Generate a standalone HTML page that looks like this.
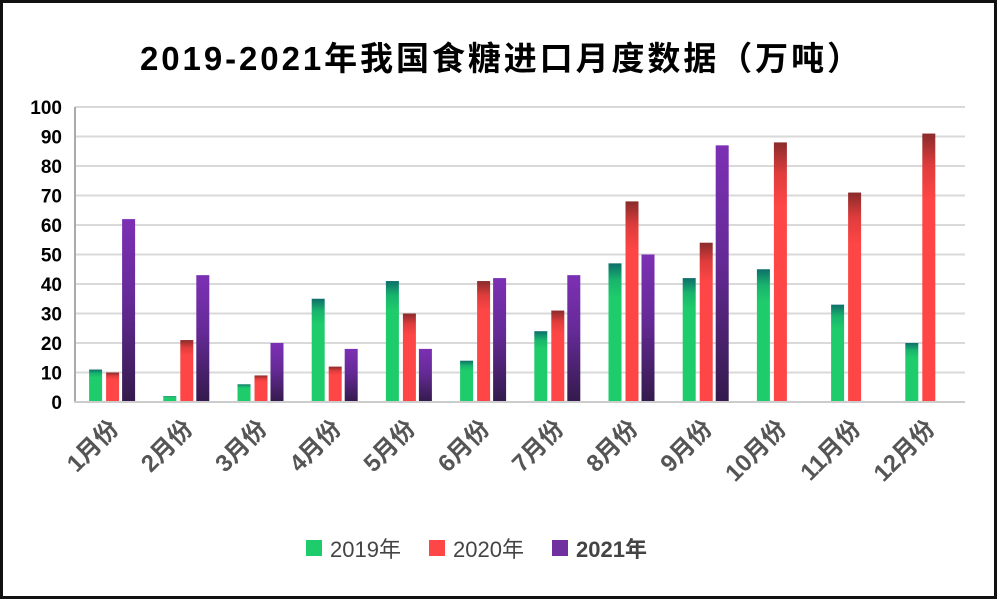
<!DOCTYPE html>
<html><head><meta charset="utf-8"><style>
body{margin:0;background:#fff}
svg{display:block}
text{font-family:"Liberation Sans","Noto Sans CJK SC",sans-serif}
</style></head><body>
<svg width="997" height="599" viewBox="0 0 997 599" xmlns="http://www.w3.org/2000/svg">
<defs>
<linearGradient id="g" x1="0" y1="0" x2="0" y2="1"><stop offset="0" stop-color="#0d6e6a"/><stop offset="0.12" stop-color="#18b46c"/><stop offset="0.25" stop-color="#1fcc6b"/><stop offset="1" stop-color="#1fcc6b"/></linearGradient>
<linearGradient id="r" x1="0" y1="0" x2="0" y2="1"><stop offset="0" stop-color="#8a2b2b"/><stop offset="0.12" stop-color="#e03c3c"/><stop offset="0.25" stop-color="#ff4646"/><stop offset="1" stop-color="#ff4646"/></linearGradient>
<linearGradient id="p" x1="0" y1="0" x2="0" y2="1"><stop offset="0" stop-color="#7c30b4"/><stop offset="0.45" stop-color="#652a96"/><stop offset="1" stop-color="#331a4c"/></linearGradient>
</defs>
<rect x="1.5" y="1.5" width="994" height="596" fill="#fff" stroke="#111" stroke-width="3"/>
<text x="500" y="70" text-anchor="middle" font-size="33" font-weight="bold" fill="#000" textLength="720">2019-2021年我国食糖进口月度数据（万吨）</text>
<g id="grid" stroke="#d9d9d9" stroke-width="2"></g>
<g id="bars"></g>
<g id="ylab" font-size="19" font-weight="bold" fill="#000" text-anchor="end"></g>
<g id="xlab" font-size="24" font-weight="bold" fill="#555" text-anchor="end"></g>
<line x1="75" y1="107" x2="75" y2="403" stroke="#aaa" stroke-width="2"/>
<line x1="74" y1="402" x2="965" y2="402" stroke="#ccc" stroke-width="2"/>
<g font-size="22" fill="#444">
<rect x="306" y="540" width="16" height="16" fill="#1fcc6b"/><text x="330" y="557">2019年</text>
<rect x="429" y="540" width="16" height="16" fill="#ff4646"/><text x="453" y="557">2020年</text>
<rect x="552" y="540" width="16" height="16" fill="#7030a0"/><text x="576" y="557" font-weight="bold">2021年</text>
</g>
</svg>
<script>
var ns="http://www.w3.org/2000/svg";
function el(p,t,a,txt){var e=document.createElementNS(ns,t);for(var k in a)e.setAttribute(k,a[k]);if(txt)e.textContent=txt;document.getElementById(p).appendChild(e);}
function Y(v){return 402-2.95*v;}
for(var v=0;v<=100;v+=10){if(v>0)el("grid","line",{x1:75,x2:965,y1:Y(v),y2:Y(v)});el("ylab","text",{x:62,y:Y(v)+7},String(v));}
var d=[[11,2,6,35,41,14,24,47,42,45,33,20],[10,21,9,12,30,41,31,68,54,88,71,91],[62,43,20,18,18,42,43,50,87]];
var off=[-23,-6,10],f=["url(#g)","url(#r)","url(#p)"];
for(var i=0;i<12;i++){var c=75+74.2*(i+0.5);
for(var s=0;s<3;s++){var v=d[s][i];if(v===undefined)continue;el("bars","rect",{x:c+off[s],y:Y(v),width:13,height:2.95*v,fill:f[s]});}
el("xlab","text",{x:0,y:0,transform:"translate("+(c+8)+",430) rotate(-45)"},(i+1)+"月份");}
</script>
</body></html>
